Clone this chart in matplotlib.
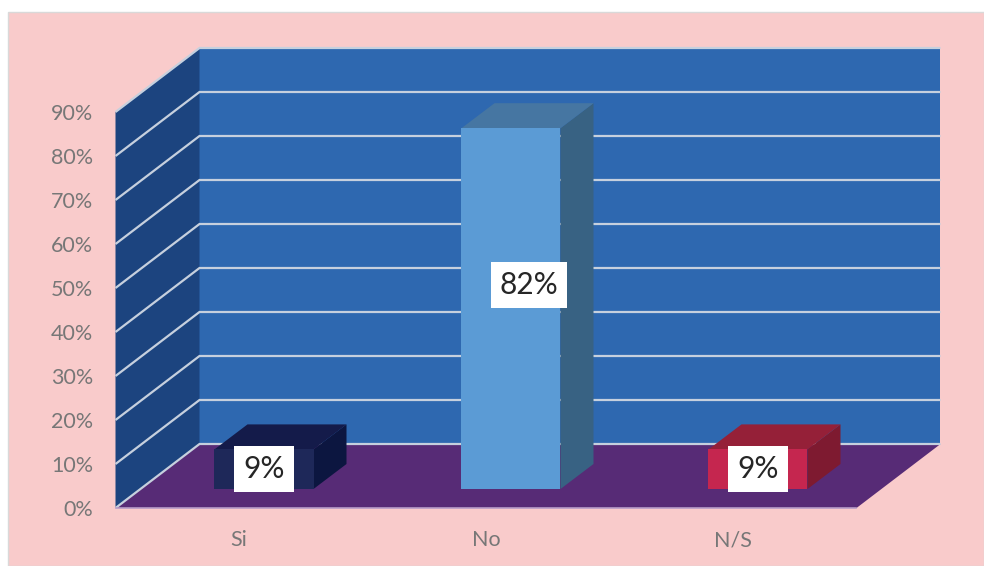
import numpy as np
import matplotlib
matplotlib.use("Agg")
import matplotlib.pyplot as plt
from matplotlib.patches import Polygon, Rectangle

plt.rcParams['font.family'] = ['Lato', 'DejaVu Sans']

# data
categories = ["Si", "No", "N/S"]
values = [9, 82, 9]
y_ticks = [0, 10, 20, 30, 40, 50, 60, 70, 80, 90]

front_colors = ["#1e2859", "#5b9bd5", "#c5264f"]
top_colors = ["#141b4a", "#4676a2", "#952038"]
side_colors = ["#0c1640", "#386283", "#7e1a30"]

# depth of the box, in data units (x = categories, y = percent)
px_x = 741 / 3
px_y = 396 / 90
depth_x = 84 / px_x
depth_y = 64 / px_y
bar_off_x = 25 / px_x
bar_off_y = 19 / px_y
bar_dx = 33 / px_x
bar_dy = 25 / px_y
bar_w = 99 / px_x

# small shift for labels, only the tall one sits off centre
label_shift = [(0, 0), (18 / px_x, 24 / px_y), (0, 0)]

grid_col = "#c6d0de"

fig = plt.figure(figsize=(9.84, 5.66), dpi=100, facecolor="white")
fig.add_artist(Rectangle((8 / 984, 0), 976 / 984, 554 / 566, transform=fig.transFigure,
                         facecolor="#f9cbcb", edgecolor="#d9d9d9", linewidth=1, zorder=-5))

ax = fig.add_axes([115.5 / 984, 58 / 566, 741 / 984, 396 / 566])
ax.set_xlim(0, 3)
ax.set_ylim(0, 90)
ax.patch.set_visible(False)
for s in ax.spines.values():
    s.set_visible(False)


def poly(pts, color, z=1):
    ax.add_patch(Polygon(pts, closed=True, facecolor=color, edgecolor="none", clip_on=False, zorder=z))


# walls and floor
top = y_ticks[-1]
poly([(depth_x, depth_y), (3 + depth_x, depth_y), (3 + depth_x, top + depth_y), (depth_x, top + depth_y)], "#2e68b0")
poly([(0, 0), (depth_x, depth_y), (depth_x, top + depth_y), (0, top)], "#1c447f")
poly([(0, 0), (3, 0), (3 + depth_x, depth_y), (depth_x, depth_y)], "#572b76")

# gridlines go along the left wall and then the back wall
for t in y_ticks:
    ax.plot([0, depth_x, 3 + depth_x], [t, t + depth_y, t + depth_y], color=grid_col, lw=1.6,
            clip_on=False, zorder=2, solid_capstyle="butt", solid_joinstyle="miter")
ax.plot([0, 3], [0, 0], color="#b79cc8", lw=1.2, clip_on=False, zorder=2)

# bars
for i, v in enumerate(values):
    x0 = i + 0.5 + bar_off_x - bar_w / 2
    x1 = x0 + bar_w
    y0 = bar_off_y
    y1 = y0 + v
    poly([(x1, y0), (x1 + bar_dx, y0 + bar_dy), (x1 + bar_dx, y1 + bar_dy), (x1, y1)], side_colors[i], z=3)
    poly([(x0, y1), (x1, y1), (x1 + bar_dx, y1 + bar_dy), (x0 + bar_dx, y1 + bar_dy)], top_colors[i], z=3)
    poly([(x0, y0), (x1, y0), (x1, y1), (x0, y1)], front_colors[i], z=4)
    ax.text((x0 + x1) / 2 + label_shift[i][0], (y0 + y1) / 2 + label_shift[i][1], f"{v}%",
            ha="center", va="center", fontsize=21.5, color="#262626", zorder=5,
            bbox=dict(facecolor="white", edgecolor="none", pad=6.5))

ax.set_xticks([i + 0.5 for i in range(len(categories))])
ax.set_xticklabels(categories)
ax.set_yticks(y_ticks)
ax.set_yticklabels([f"{t}%" for t in y_ticks])
ax.tick_params(axis="y", length=0, pad=16, labelsize=15.5, labelcolor="#777777")
ax.tick_params(axis="x", length=0, pad=16, labelsize=15.5, labelcolor="#777777")

fig.savefig("out.png", dpi=100, facecolor="white")
